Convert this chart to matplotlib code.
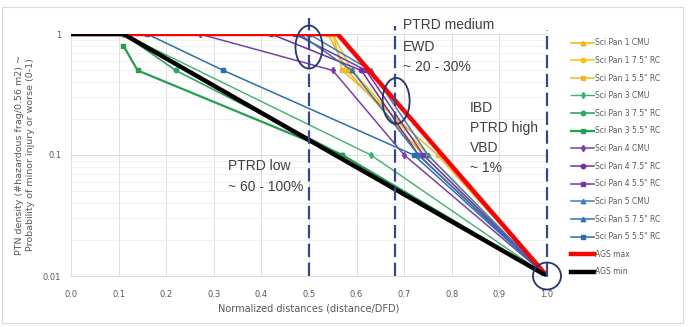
import matplotlib.pyplot as plt
from matplotlib.patches import Ellipse, Rectangle
from matplotlib.transforms import IdentityTransform
from matplotlib.ticker import FixedLocator, LogLocator, NullFormatter

# Data (x = normalized distance, y = PTN density)
sp1_cmu_x = [0.54, 0.58, 0.74, 1.0]
sp1_cmu_y = [1.0, 0.5, 0.1, 0.01]
sp1_75_x = [0.55, 0.59, 0.75, 1.0]
sp1_75_y = [1.0, 0.5, 0.1, 0.01]
sp1_55_x = [0.55, 0.57, 0.77, 1.0]
sp1_55_y = [1.0, 0.5, 0.1, 0.01]

sp3_cmu_x = [0.11, 0.63, 1.0]
sp3_cmu_y = [1.0, 0.1, 0.01]
sp3_75_x = [0.11, 0.22, 0.57, 1.0]
sp3_75_y = [1.0, 0.5, 0.1, 0.01]
sp3_55_x = [0.11, 0.14, 0.57, 1.0]
sp3_55_y = [0.8, 0.5, 0.1, 0.01]

sp4_cmu_x = [0.27, 0.55, 0.70, 1.0]
sp4_cmu_y = [1.0, 0.5, 0.1, 0.01]
sp4_75_x = [0.42, 0.61, 0.73, 1.0]
sp4_75_y = [1.0, 0.5, 0.1, 0.01]
sp4_55_x = [0.47, 0.62, 0.74, 1.0]
sp4_55_y = [1.0, 0.5, 0.1, 0.01]

sp5_cmu_x = [0.50, 0.63, 0.75, 1.0]
sp5_cmu_y = [1.0, 0.5, 0.1, 0.01]
sp5_75_x = [0.48, 0.59, 0.73, 1.0]
sp5_75_y = [1.0, 0.5, 0.1, 0.01]
sp5_55_x = [0.16, 0.32, 0.72, 1.0]
sp5_55_y = [1.0, 0.5, 0.1, 0.01]

ags_max_x = [0.0, 0.56, 1.0]
ags_max_y = [1.0, 1.0, 0.01]
ags_min_x = [0.0, 0.11, 1.0]
ags_min_y = [1.0, 1.0, 0.01]

# zone boundaries (x) and how far above the plot each dashed line reaches
zone_lines = [0.5, 0.68, 1.0]
zone_tops = [1.36, 1.16, 1.08]

series = [
    ('Sci Pan 1 CMU', sp1_cmu_x, sp1_cmu_y, '#f2b400', '^', 1.1),
    ('Sci Pan 1 7.5" RC', sp1_75_x, sp1_75_y, '#ffc000', 'o', 1.1),
    ('Sci Pan 1 5.5" RC', sp1_55_x, sp1_55_y, '#f7b32b', 's', 1.1),
    ('Sci Pan 3 CMU', sp3_cmu_x, sp3_cmu_y, '#3cb371', 'd', 1.0),
    ('Sci Pan 3 7.5" RC', sp3_75_x, sp3_75_y, '#2ca860', 'o', 1.2),
    ('Sci Pan 3 5.5" RC', sp3_55_x, sp3_55_y, '#22a050', 's', 1.6),
    ('Sci Pan 4 CMU', sp4_cmu_x, sp4_cmu_y, '#7a3fae', 'd', 1.1),
    ('Sci Pan 4 7.5" RC', sp4_75_x, sp4_75_y, '#7030a0', 'o', 1.1),
    ('Sci Pan 4 5.5" RC', sp4_55_x, sp4_55_y, '#7636a6', 's', 1.1),
    ('Sci Pan 5 CMU', sp5_cmu_x, sp5_cmu_y, '#3a7fc1', '^', 1.1),
    ('Sci Pan 5 7.5" RC', sp5_75_x, sp5_75_y, '#2e75b6', '^', 1.1),
    ('Sci Pan 5 5.5" RC', sp5_55_x, sp5_55_y, '#2870b0', 's', 1.1),
]

W, H = 700, 327
fig = plt.figure(figsize=(W / 100, H / 100), dpi=100)
ax = fig.add_axes([71 / W, 1 - 276 / H, 476 / W, 242 / H])

for label, xs, ys, color, marker, lw in series:
    ax.plot(xs, ys, color=color, lw=lw, marker=marker, ms=3.2, label=label, zorder=3)

ax.plot(ags_max_x, ags_max_y, color='#ff0000', lw=3.2, label='AGS max', zorder=4)
ax.plot(ags_min_x, ags_min_y, color='#000000', lw=3.2, label='AGS min', zorder=4)

ax.set_yscale('log')
ax.set_xlim(0, 1.0)
ax.set_ylim(0.01, 1)
ax.xaxis.set_major_locator(FixedLocator([i / 10 for i in range(11)]))
ax.set_xticklabels([f'{i / 10:.1f}' for i in range(11)])
ax.set_yticks([0.01, 0.1, 1])
ax.set_yticklabels(['0.01', '0.1', '1'])
ax.yaxis.set_minor_locator(LogLocator(base=10, subs=range(2, 10)))
ax.yaxis.set_minor_formatter(NullFormatter())
ax.tick_params(axis='x', which='both', length=0, labelsize=6, colors='#595959', pad=10)
ax.tick_params(axis='y', which='both', length=0, labelsize=6, colors='#595959', pad=7)
ax.grid(True, which='major', color='#d9d9d9', lw=0.6)
ax.grid(True, which='minor', axis='y', color='#ececec', lw=0.5)
ax.set_axisbelow(True)
for side in ['top', 'right', 'left']:
    ax.spines[side].set_visible(False)
ax.spines['bottom'].set_color('#d9d9d9')

ax.set_xlabel('Normalized distances (distance/DFD)', fontsize=7, color='#595959', labelpad=3)
ax.set_ylabel('PTN density (#hazardous frag/0.56 m2) ~\nProbability of minor injury or worse (0-1)',
              fontsize=6.8, color='#595959', labelpad=6)

for xv, top in zip(zone_lines, zone_tops):
    ax.plot([xv, xv], [0.01, top], ls=(0, (6, 2.5)), color='#2f4a8a',
            lw=1.6, zorder=5, clip_on=False)

# circles around the crossing points, sized in pixels
fig.canvas.draw()
circles = [((0.5, 0.78), 27, 43), ((0.683, 0.28), 27, 46), ((1.0, 0.01), 28, 27)]
for (cx, cy), w, h in circles:
    px, py = ax.transData.transform((cx, cy))
    fig.patches.append(Ellipse((px, py), w, h, transform=IdentityTransform(), fill=False,
                               ec='#25366b', lw=1.3, zorder=6))

txt = dict(fontsize=10, color='#404040', family=['Liberation Sans', 'DejaVu Sans'], va='center')
notes = [('PTRD low', 228, 166), ('~ 60 - 100%', 228, 187),
         ('PTRD medium', 403, 25), ('EWD', 403, 47), ('~ 20 - 30%', 403, 67),
         ('IBD', 470, 108), ('PTRD high', 470, 128), ('VBD', 470, 148), ('~ 1%', 470, 168)]
for s, x, y in notes:
    fig.text(x / W, 1 - y / H, s, **txt)

leg = ax.legend(loc='upper left', bbox_to_anchor=(1.045, 0.995), frameon=False, fontsize=5.5,
                handlelength=3.0, labelspacing=1.13, handletextpad=0.1, borderaxespad=0)
for t in leg.get_texts():
    t.set_color('#595959')

fig.patches.append(Rectangle((0.003, 0.012), 683 / W - 0.003, 0.967, transform=fig.transFigure,
                             fill=False, ec='#d9d9d9', lw=0.8))

fig.savefig('out.png', dpi=100)
